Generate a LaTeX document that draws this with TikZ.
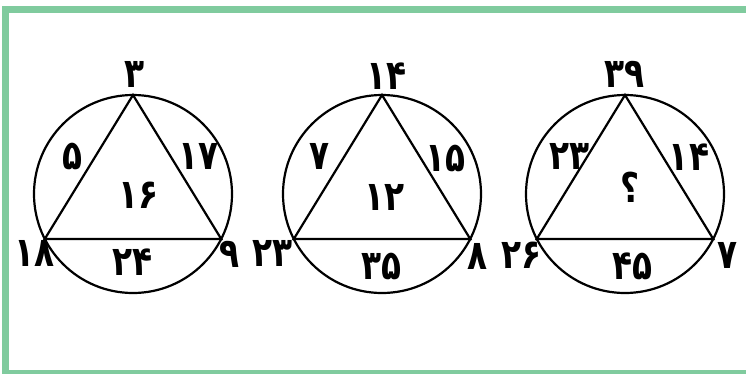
\documentclass[tikz,border=0pt]{standalone}
\usepackage{fontspec}
\usepackage{xcolor}
\usepackage{tikz}
\usetikzlibrary{positioning}
\newfontfamily\farsi[Script=Arabic]{DejaVu Sans}
\definecolor{frame}{RGB}{128,203,158}
\newcommand{\fa}[1]{\scalebox{0.8}[1]{#1}}

\begin{document}
\begin{tikzpicture}[x=1pt,y=-1pt,
  c/.style={circle,draw,line width=2.2pt,minimum size=198pt,inner sep=0pt,outer sep=0pt},
  t/.style={line width=2.2pt,line join=miter},
  d/.style={font=\farsi\bfseries\fontsize{41}{41}\selectfont,inner sep=0pt}
]
\useasboundingbox (0,0) rectangle (746,373);
% green frame, open on the right
\coordinate (fa) at (746,9.3);
\coordinate (fb) at (5.5,9.3);
\coordinate (fc) at (5.5,374);
\coordinate (fd) at (746,374);
\draw[frame,line width=7.5pt] (fa) -- (fb) -- (fc) -- (fd);

% circles with triangles
\node[c] (c1) at (133,194) {};
\node[c] (c2) at (382,194) {};
\node[c] (c3) at (625,194) {};
\coordinate (a1) at (c1.north);
\coordinate (l1) at (c1.207.7);
\coordinate (r1) at (c1.-27.7);
\coordinate (a2) at (c2.north);
\coordinate (l2) at (c2.207.7);
\coordinate (r2) at (c2.-27.7);
\coordinate (a3) at (c3.north);
\coordinate (l3) at (c3.207.7);
\coordinate (r3) at (c3.-27.7);
\draw[t] (a1) -- (r1) -- (l1) -- cycle;
\draw[t] (a2) -- (r2) -- (l2) -- cycle;
\draw[t] (a3) -- (r3) -- (l3) -- cycle;

% numbers
\node[d] (top1) at (135,74) {\fa{۳}};
\node[d] (left1) at (73,156) {\fa{۵}};
\node[d] (right1) at (199,156) {\fa{۱۷}};
\node[d] (mid1) at (139,195) {\fa{۱۶}};
\node[d] (bl1) at (35,253) {\fa{۱۸}};
\node[d] (br1) at (230,254) {\fa{۹}};
\node[d] (bot1) at (133,262) {\fa{۲۴}};

\node[d] (top2) at (387,76) {\fa{۱۴}};
\node[d] (left2) at (320,156) {\fa{۷}};
\node[d] (right2) at (446,158) {\fa{۱۵}};
\node[d] (mid2) at (385,197) {\fa{۱۲}};
\node[d] (bl2) at (273,253) {\fa{۲۳}};
\node[d] (br2) at (478,256) {\fa{۸}};
\node[d] (bot2) at (382,266) {\fa{۳۵}};

\node[d] (top3) at (625,74) {\fa{۳۹}};
\node[d] (left3) at (570,156) {\fa{۲۳}};
\node[d] (right3) at (689,157) {\fa{۱۴}};
\node[d] (mid3) at (630,187) {\fa{؟}};
\node[d] (bl3) at (522,255) {\fa{۲۶}};
\node[d] (br3) at (727,255) {\fa{۷}};
\node[d] (bot3) at (633,266) {\fa{۴۵}};
\end{tikzpicture}
\end{document}
